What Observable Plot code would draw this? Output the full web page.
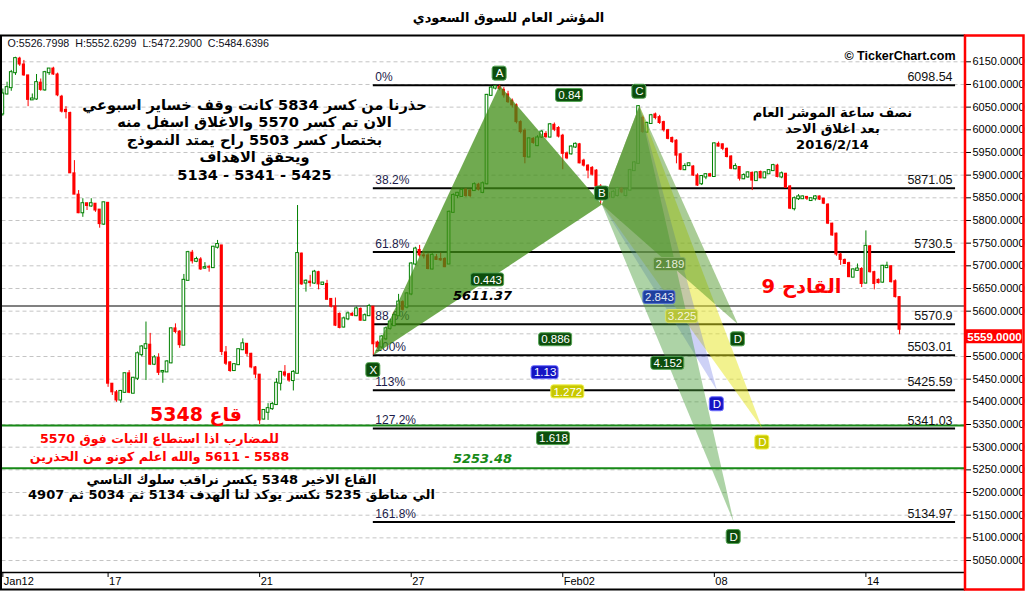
<!DOCTYPE html>
<html><head><meta charset="utf-8">
<script src="https://cdn.jsdelivr.net/npm/d3@7"></script>
<script src="https://cdn.jsdelivr.net/npm/@observablehq/plot@0.6"></script>
<style>body{margin:0;background:#fff;} svg{display:block}</style>
</head><body><div id="chart"></div>
<script>
// ---- 30-minute candles, TASI, Jan 12 – Feb 14 2016 ----
const opens = [6035,6079,6093,6126,6157,6144,6120,6066,6068,6104,6088,6126,6135,6122,6073,6044,6037,5904,5857,5817,5838,5832,5837,5824,5792,5839,5440,5421,5404,5421,5463,5419,5452,5504,5518,5526,5483,5497,5466,5466,5486,5562,5555,5525,5668,5729,5710,5714,5695,5697,5696,5741,5745,5509,5487,5469,5482,5515,5528,5506,5476,5460,5362,5377,5385,5394,5441,5465,5461,5447,5463,5727,5662,5665,5662,5686,5659,5660,5627,5610,5594,5565,5583,5594,5590,5605,5580,5590,5610,5531,5521,5539,5562,5568,5590,5620,5609,5638,5704,5735,5723,5723,5693,5719,5715,5715,5704,5818,5855,5853,5868,5866,5866,5879,5862,5881,6076,6092,6095,6088,6078,6064,6054,6017,5998,5940,5980,5965,5984,5991,5984,6011,6004,5987,5948,5947,5962,5968,5932,5921,5916,5910,5875,5848,5859,5851,5855,5870,5855,5867,5910,5926,6026,5995,6014,6034,6028,6017,5999,5982,5976,5946,5912,5921,5919,5899,5881,5896,5902,5897,5969,5968,5958,5941,5914,5918,5892,5896,5905,5888,5907,5894,5903,5910,5921,5896,5903,5875,5826,5848,5848,5852,5844,5848,5853,5848,5835,5793,5771,5725,5713,5706,5675,5690,5693,5662,5743,5686,5669,5664,5696,5699,5666,5631];
const highs = [6090,6105,6131,6160,6160,6153,6120,6079,6122,6112,6129,6135,6138,6125,6076,6051,6039,5932,5866,5848,5838,5848,5837,5824,5840,5839,5440,5425,5425,5463,5469,5454,5510,5524,5576,5551,5502,5506,5469,5491,5563,5572,5557,5681,5732,5734,5719,5718,5707,5701,5743,5756,5745,5522,5489,5484,5515,5539,5528,5507,5478,5460,5382,5396,5399,5451,5467,5480,5463,5469,5833,5728,5669,5679,5690,5688,5663,5668,5627,5629,5596,5587,5598,5597,5609,5607,5594,5615,5610,5534,5546,5565,5580,5594,5637,5623,5641,5707,5741,5745,5730,5727,5727,5725,5728,5718,5821,5859,5862,5870,5870,5868,5883,5882,5885,6078,6096,6097,6098.5,6093,6085,6068,6057,6020,6002,5982,5983,5987,5998,5996,6014,6015,6007,5990,5951,5965,5971,5970,5935,5923,5919,5912,5879,5862,5862,5866,5873,5873,5870,5913,5930,6053,6030,6017,6034,6037,6032,6019,6001,5984,5978,5947,5925,5927,5921,5903,5899,5903,5904,5971,5973,5969,5960,5943,5925,5919,5903,5907,5907,5907,5909,5907,5912,5924,5924,5907,5904,5877,5852,5857,5854,5853,5849,5855,5854,5849,5837,5794,5772,5728,5715,5708,5693,5704,5696,5777,5745,5688,5671,5701,5708,5700,5669,5632];
const lows = [6030,6077,6085,6120,6140,6118,6051,6065,6065,6085,6085,6120,6120,6073,6037,6024,5904,5857,5815,5807,5822,5829,5818,5783,5789,5432,5414,5399,5397,5419,5418,5418,5447,5499,5447,5480,5480,5458,5441,5465,5484,5550,5518,5525,5668,5704,5707,5690,5692,5686,5694,5737,5502,5480,5465,5468,5480,5513,5499,5473,5451,5350,5360,5359,5381,5392,5424,5454,5443,5424,5463,5657,5642,5653,5659,5647,5657,5625,5607,5566,5561,5563,5579,5588,5588,5578,5578,5588,5503,5517,5517,5535,5558,5566,5588,5600,5605,5634,5700,5719,5715,5691,5691,5712,5710,5696,5703,5816,5848,5851,5851,5850,5864,5865,5859,5878,6074,6088,6086,6070,6058,6048,6013,5991,5925,5939,5968,5963,5981,5980,5982,5996,5982,5912,5934,5944,5959,5925,5918,5892,5898,5872,5835,5845,5848,5848,5852,5859,5852,5865,5908,5924,5992,5992,6012,6022,6012,5995,5978,5970,5925,5910,5910,5919,5897,5875,5877,5890,5896,5896,5962,5954,5938,5912,5912,5887,5890,5893,5866,5887,5892,5892,5902,5909,5894,5892,5872,5824,5821,5844,5847,5844,5843,5843,5844,5835,5791,5765,5721,5701,5703,5674,5674,5688,5652,5660,5684,5647,5660,5662,5694,5662,5629,5548];
const closes = [6079,6093,6126,6157,6144,6120,6066,6068,6104,6088,6126,6134,6122,6076,6040,6039,5904,5857,5816,5837,5832,5837,5822,5792,5839,5440,5421,5403,5423,5462,5420,5452,5506,5521,5526,5482,5497,5464,5467,5488,5561,5554,5525,5668,5729,5710,5714,5692,5696,5696,5741,5747,5510,5484,5468,5482,5515,5528,5506,5476,5460,5359,5381,5385,5394,5441,5465,5458,5447,5465,5727,5659,5666,5662,5686,5659,5662,5625,5610,5568,5563,5583,5594,5590,5605,5579,5590,5610,5527,5520,5543,5561,5576,5590,5620,5603,5638,5704,5737,5723,5721,5693,5723,5713,5712,5697,5818,5855,5860,5866,5854,5854,5879,5868,5881,6076,6092,6095,6090,6076,6061,6054,6017,5995,5940,5980,5971,5982,5995,5984,6011,6000,5985,5947,5937,5962,5968,5926,5921,5910,5901,5875,5851,5859,5851,5862,5870,5862,5867,5910,5927,6051,5995,6014,6031,6026,6015,5999,5980,5973,5943,5912,5919,5925,5899,5877,5897,5901,5897,5969,5963,5958,5940,5914,5919,5892,5899,5905,5888,5905,5893,5905,5910,5921,5896,5903,5872,5826,5848,5852,5852,5848,5848,5852,5846,5837,5793,5767,5725,5713,5704,5675,5691,5693,5660,5743,5686,5660,5662,5699,5699,5664,5631,5559];

// x-axis: candle index of the first bar of each labelled day
const tickIdx = [0, 25, 61, 97, 133, 169, 205];
const tickLabels = ["Jan12", "17", "21", "27", "Feb02", "08", "14"];
const yTicks = d3.range(5050, 6151, 50);

// Fibonacci levels
const fibPct = ["0%", "38.2%", "61.8%", "88.6%", "100%", "113%", "127.2%", "161.8%"];
const fibVal = [6098.54, 5871.05, 5730.5, 5570.9, 5503.01, 5425.59, 5341.03, 5134.97];
const fibValLabels = ["6098.54", "5871.05", "5730.5", "5570.9", "5503.01", "5425.59", "5341.03", "5134.97"];

// Harmonic pattern points (candle index, price)
const patNames = ["X", "A", "B", "C"];
const patIdx = [88, 118, 142.3, 151.2];
const patVal = [5503.01, 6098.54, 5835, 6053];
// the four D projections: 0.886 / 1.618 / 1.13 / 1.272
const dIdx = [174.6, 173.6, 169.6, 180.4];
const dVal = [5570.9, 5134.97, 5425.59, 5341.03];
const dXRatio = ["0.886", "1.618", "1.13", "1.272"];
const dBCRatio = ["2.189", "4.152", "2.843", "3.225"];
const xbRatio = "0.443", acRatio = "0.84";

const grayLevel = 5611.37;
const greenLevels = [5348, 5253.48];
const lastPrice = 5559;
const ohlcText = "O:5526.7998  H:5552.6299  L:5472.2900  C:5484.6396";
const titleText = "المؤشر العام للسوق السعودي";
const RLM = "\u200F";
const note1 = ["حذرنا من كسر 5834 كانت وقف خساير اسبوعي", "الان تم كسر 5570 والاغلاق اسفل منه", "بختصار كسر 5503 راح يمتد النموذج", "ويحقق الاهداف", "5425 - 5341 - 5134"];
const note2 = ["نصف ساعة الموشر العام", "بعد اغلاق الاحد", "2016/2/14"];
const note3 = ["للمضارب اذا استطاع الثبات فوق 5570", "5588 - 5611 والله اعلم كونو من الحذرين"];
const note4 = ["القاع الاخير 5348 يكسر نراقب سلوك التاسي", "الي مناطق 5235 نكسر يوكد لنا الهدف 5134 ثم 5034 ثم 4907"];
const noteBottom = "قاع 5348";
const noteTrigger = "القادح 9";

// ---------------------------------------------------------------
const GREEN = "#008000", RED = "#ff0000";
const AR = "DejaVu Sans";
const idx = d3.range(closes.length);
const upI = idx.filter(i => closes[i] >= opens[i]);
const dnI = idx.filter(i => closes[i] < opens[i]);
const xDom = [-0.2, 228.66];
const P = Object.fromEntries(patNames.map((n, k) => [n, {x: patIdx[k], y: patVal[k], t: n}]));
const D = dIdx.map((x, k) => ({x, y: dVal[k], t: "D"}));
const mid = (p, q, t) => ({x: (p.x + q.x) / 2, y: (p.y + q.y) / 2, t});
const fibStart = patIdx[0], fibEnd = 226.3;
const rtl = lines => lines.map(l => RLM + l).join("\n");
// axis labels hidden behind the last-price tag are not drawn
const axisTicks = yTicks.filter(t => !(t <= lastPrice && t > lastPrice - 30));

function box(data, {w, h = 14, dy = 0, fill, stroke, color = "white", fs = 11.5}) {
  return [
    Plot.rect(data, {x1: "x", x2: "x", y1: "y", y2: "y", insetLeft: -w / 2, insetRight: -w / 2,
      insetTop: dy - h / 2, insetBottom: -(dy + h / 2), fill, stroke, strokeWidth: 1, rx: 2.5}),
    Plot.text(data, {x: "x", y: "y", text: "t", dy, fill: color, fontSize: fs, fontFamily: "Liberation Sans"})
  ];
}
const tri = (pts, fill, op) => Plot.line(pts, {x: "x", y: "y", fill, fillOpacity: op, stroke: "none"});
const DG = {fill: "#0c4e0c", stroke: "#54a654"};
const BL = {fill: "#1414c4", stroke: "#7070ff"};
const YL = {fill: "#c8c800", stroke: "#f2f250"};

const note = (text, xc, yc, o) => Plot.text([text], {text: d => d, frameAnchor: "top-left", textAnchor: "middle", lineAnchor: "middle", dx: xc - 1.5, dy: yc - 36, ...o});

const chart = Plot.plot({
  width: 1026, height: 591,
  marginLeft: 1.5, marginRight: 61, marginTop: 36, marginBottom: 19,
  style: {fontFamily: "Liberation Sans, Arial, sans-serif", fontSize: "11px", background: "white", color: "#000", overflow: "visible"},
  x: {domain: xDom, ticks: tickIdx, tickFormat: () => "", tickSize: 5, label: null},
  y: {domain: [5023.6, 6205.8], axis: "right", ticks: axisTicks, tickFormat: d => d.toFixed(4), tickSize: 5, tickPadding: 2, label: null},
  marks: [
    Plot.ruleY(yTicks, {stroke: "#c4c4c4", strokeDasharray: "4,3"}),
    Plot.ruleY([grayLevel], {stroke: "#808080", strokeWidth: 2}),
    Plot.ruleY(greenLevels, {stroke: "#178a17", strokeWidth: 2}),
    Plot.ruleY(fibVal, {x1: fibStart, x2: fibEnd, stroke: "#000", strokeWidth: 2}),
    Plot.text(fibVal, {x: fibStart, y: d => d, text: (d, i) => fibPct[i], textAnchor: "start", dx: 2, dy: -8, fill: "#1c1c4a", fontSize: 12}),
    Plot.text(fibVal, {x: fibEnd, y: d => d, text: (d, i) => fibValLabels[i], textAnchor: "end", dx: -3, dy: -8, fill: "#111", fontSize: 12.5}),
    // candles
    Plot.ruleX(upI, {x: i => i, y1: i => lows[i], y2: i => highs[i], stroke: GREEN}),
    Plot.ruleX(dnI, {x: i => i, y1: i => lows[i], y2: i => highs[i], stroke: RED}),
    Plot.rect(upI, {x1: i => i - 0.32, x2: i => i + 0.32, y1: i => opens[i], y2: i => closes[i], insetTop: -0.5, insetBottom: -0.5, fill: "white", stroke: GREEN}),
    Plot.rect(dnI, {x1: i => i - 0.37, x2: i => i + 0.37, y1: i => opens[i], y2: i => closes[i], insetTop: -0.5, insetBottom: -0.5, fill: RED}),
    // pattern wedges
    tri([P.X, P.A, P.B], "#408e16", 0.75),
    tri([P.B, P.C, D[3]], "#e6e61e", 0.5),
    tri([P.B, P.C, D[2]], "#5a66e0", 0.3),
    tri([P.B, P.C, D[1]], "#4a9e3a", 0.45),
    tri([P.B, P.C, D[0]], "#408e16", 0.45),
    // ratio boxes partly covered by the wedges (muted)
    ...box([mid(P.B, D[0], dBCRatio[0])], {w: 32, h: 13, fill: "#5e8e3e", stroke: "#86b066", color: "#e4ecd8"}),
    ...box([mid(P.B, D[2], dBCRatio[2])], {w: 32, h: 13, fill: "#1f3f9f", stroke: "#5070d0", color: "#e0e6f4"}),
    ...box([mid(P.B, D[3], dBCRatio[3])], {w: 32, h: 13, fill: "#b6c43a", stroke: "#d8e262", color: "#f6f6dc"}),
    // ratio boxes
    ...box([mid(P.A, P.C, acRatio)], {w: 27, h: 13, ...DG}),
    ...box([mid(P.X, P.B, xbRatio)], {w: 33, h: 13, ...DG}),
    ...box([mid(P.X, D[0], dXRatio[0]), mid(P.X, D[1], dXRatio[1]), mid(P.B, D[1], dBCRatio[1])], {w: 33, h: 13, ...DG}),
    ...box([mid(P.X, D[2], dXRatio[2])], {w: 27, h: 13, ...BL}),
    ...box([mid(P.X, D[3], dXRatio[3])], {w: 33, h: 13, ...YL}),
    // point labels
    ...box([P.A], {w: 14, dy: -11.5, ...DG}),
    ...box([P.C], {w: 14, dy: -14, ...DG}),
    ...box([P.B], {w: 14, dy: -11, ...DG}),
    ...box([P.X], {w: 14, dy: 15, ...DG}),
    ...box([D[0], D[1]], {w: 14, dy: 15, ...DG}),
    ...box([D[2]], {w: 14, dy: 14, ...BL}),
    ...box([D[3]], {w: 14, dy: 14, ...YL}),
    // level values
    Plot.text([grayLevel], {x: 106.9, y: d => d, text: d => d.toFixed(2), dy: -10, textAnchor: "start", fontFamily: "DejaVu Sans", fontWeight: "bold", fontStyle: "italic", fontSize: 13, fill: "#000"}),
    Plot.text([greenLevels[1]], {x: 106.9, y: d => d, text: d => d.toFixed(2), dy: -9, textAnchor: "start", fontFamily: "DejaVu Sans", fontWeight: "bold", fontStyle: "italic", fontSize: 13, fill: "#178a17"}),
    // x tick labels
    Plot.text(tickIdx, {x: d => d, text: (d, i) => tickLabels[i], frameAnchor: "bottom", dy: 12, dx: 1, textAnchor: "start", fontSize: 11}),
    // notes
    note(rtl(note1), 254, 138.5, {fontFamily: AR, fontWeight: "bold", fontSize: 14.6, lineHeight: 1.2, fill: "#000"}),
    note(rtl(note2), 832, 127.5, {fontFamily: AR, fontWeight: "bold", fontSize: 13, lineHeight: 1.23, fill: "#000"}),
    note(rtl(note3), 159, 446, {fontFamily: AR, fontWeight: "bold", fontSize: 12.6, lineHeight: 1.43, fill: "#ff0000"}),
    note(rtl(note4), 231, 486.5, {fontFamily: AR, fontWeight: "bold", fontSize: 13, lineHeight: 1.15, fill: "#000"}),
    note(RLM + noteBottom, 195.5, 414, {fontFamily: AR, fontWeight: "bold", fontSize: 19, fill: "#ff0000"}),
    note(RLM + noteTrigger, 801, 286, {fontFamily: AR, fontWeight: "bold", fontSize: 19.5, fill: "#ff0000"}),
    // header
    note(titleText, 508, 17, {fontFamily: AR, fontWeight: "bold", fontSize: 13}),
    note(ohlcText, 7, 43.5, {textAnchor: "start", fontSize: 10.7, fill: "#101020"}),
    note("© TickerChart.com", 955, 55.5, {textAnchor: "end", fontWeight: "bold", fontSize: 12.5}),
    // last price tag
    Plot.rect([lastPrice], {x1: xDom[1], x2: xDom[1], y1: d => d, y2: d => d, insetLeft: 0.5, insetRight: -57, insetTop: 0, insetBottom: -14, fill: RED}),
    Plot.text([lastPrice], {x: xDom[1], y: d => d, text: d => d.toFixed(4), dx: 29, dy: 7.5, fill: "white", fontWeight: "bold", fontSize: 11.5})
  ]
});
document.getElementById("chart").appendChild(chart);

// frame decoration
const svg = d3.select(chart);
svg.selectAll("text").attr("xml:space", "preserve");
const g = svg.append("g").attr("fill", "none");
g.append("line").attr("x1", 0).attr("x2", 965).attr("y1", 35.5).attr("y2", 35.5).attr("stroke", "#000").attr("stroke-width", 2);
g.append("line").attr("x1", 1).attr("x2", 1).attr("y1", 35).attr("y2", 590).attr("stroke", "#000").attr("stroke-width", 2);
g.append("line").attr("x1", 0).attr("x2", 965).attr("y1", 572.5).attr("y2", 572.5).attr("stroke", "#000").attr("stroke-width", 1.5);
g.append("line").attr("x1", 0).attr("x2", 965).attr("y1", 589.5).attr("y2", 589.5).attr("stroke", "#000").attr("stroke-width", 2);
g.append("rect").attr("x", 965).attr("y", 35.5).attr("width", 58.5).attr("height", 554).attr("stroke", "#ff0000").attr("stroke-width", 2.5);
</script>
</body></html>
